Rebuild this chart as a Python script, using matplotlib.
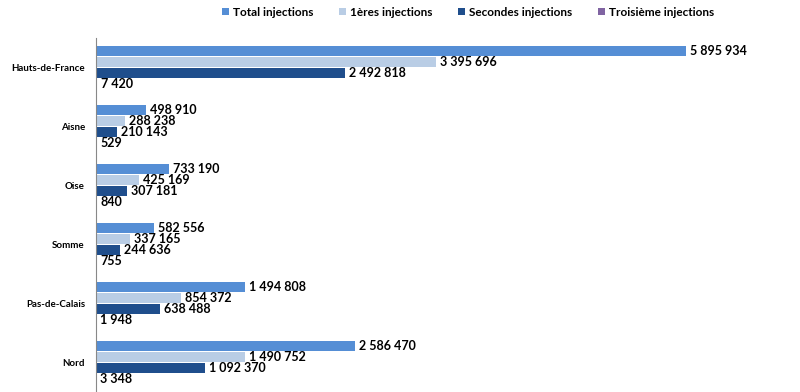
import matplotlib.pyplot as plt
import numpy as np

# donnees
regions = ["Hauts-de-France", "Aisne", "Oise", "Somme", "Pas-de-Calais", "Nord"]
total = [5895934, 498910, 733190, 582556, 1494808, 2586470]
premieres = [3395696, 288238, 425169, 337165, 854372, 1490752]
secondes = [2492818, 210143, 307181, 244636, 638488, 1092370]
troisieme = [7420, 529, 840, 755, 1948, 3348]

series = [total, premieres, secondes, troisieme]
noms = ["Total injections", "1ères injections", "Secondes injections", "Troisième injections"]
couleurs = ["#558ed5", "#b9cde5", "#1f4e8c", "#8064a2"]

plt.rcParams['font.family'] = ['Lato', 'DejaVu Sans']

fig = plt.figure(figsize=(8, 3.92), dpi=100)
ax = fig.add_axes([0.12, 0.0, 0.88, 0.903])

y = np.arange(len(regions))
pas = 0.19
haut = 0.17

def fmt(v):
    return f"{v:,}".replace(",", " ")

for k, (vals, nom, c) in enumerate(zip(series, noms, couleurs)):
    pos = y + (k - 1.5) * pas
    ax.barh(pos, vals, height=haut, color=c, label=nom)
    for p, v in zip(pos, vals):
        ax.text(v + 40000, p, fmt(v), va='center', ha='left',
                fontsize=9, fontweight='bold', color='black')

ax.set_ylim(5.5, -0.5)
ax.set_xlim(0, 7040000)
ax.set_yticks(y)
ax.set_yticklabels(regions, fontsize=7, fontweight='bold')
ax.tick_params(axis='y', length=0, pad=8)
ax.set_xticks([])
for s in ['top', 'right', 'bottom']:
    ax.spines[s].set_visible(False)
ax.spines['left'].set_color('#888888')

fig.legend(loc='upper center', bbox_to_anchor=(0.585, 1.01), ncol=4, frameon=False,
           prop={'size': 8.5, 'weight': 'bold'}, handlelength=0.6, handleheight=0.6,
           handletextpad=0.3, columnspacing=2.2)

fig.savefig("out.png", dpi=100)
